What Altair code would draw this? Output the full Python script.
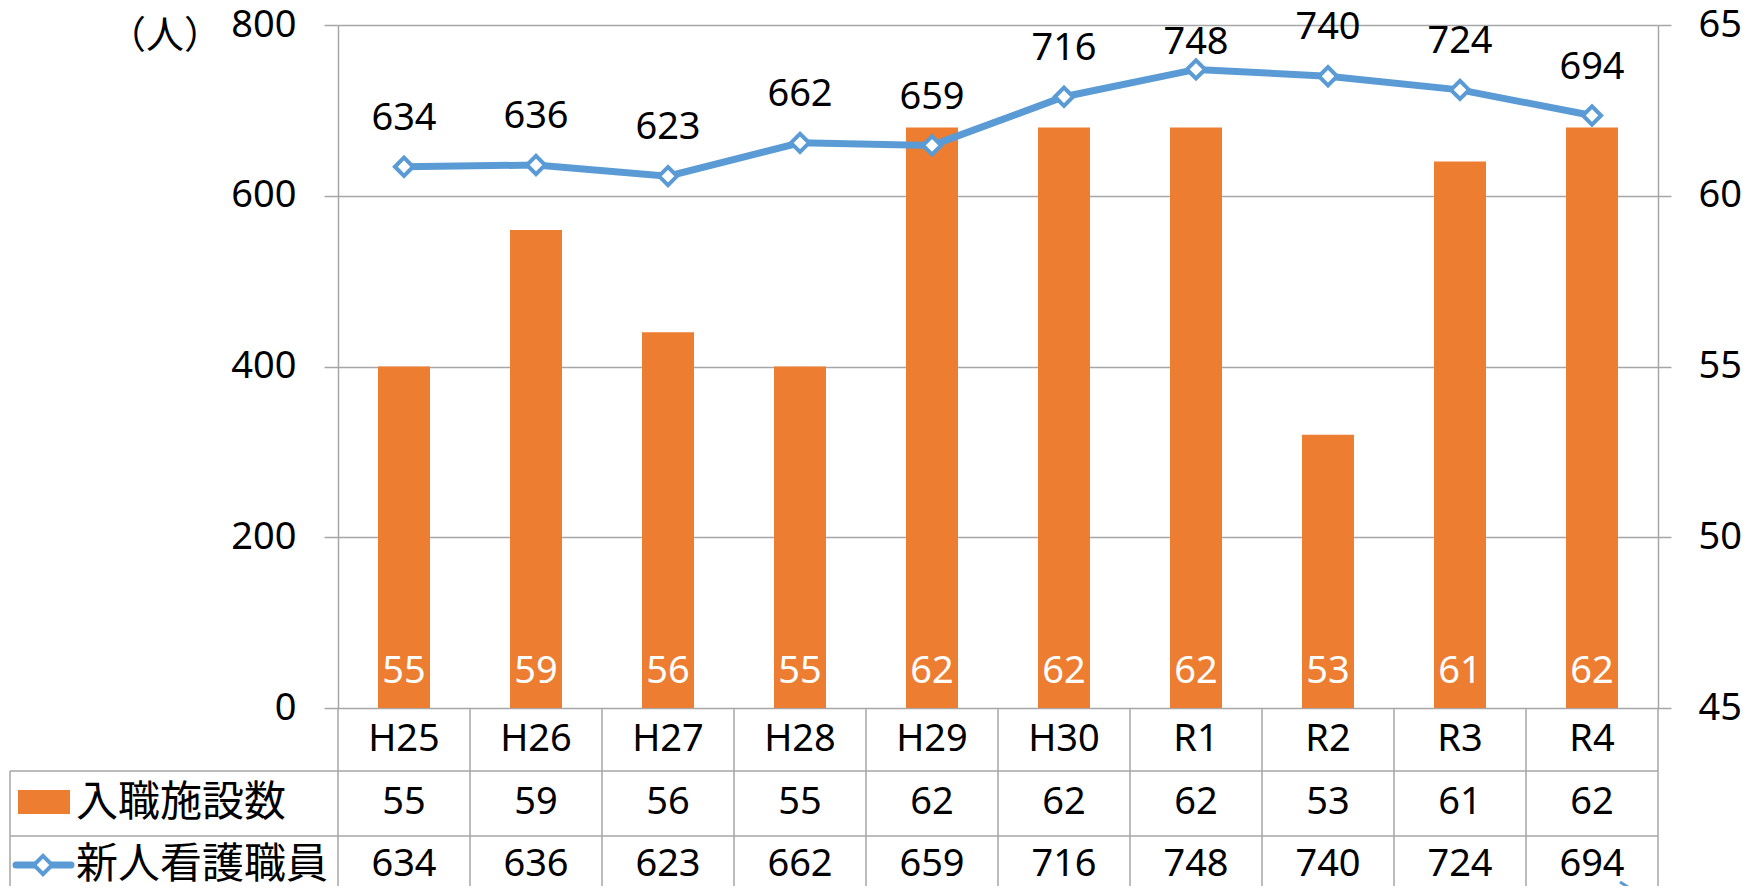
import altair as alt
import pandas as pd

# ---- data ----
categories = ["H25", "H26", "H27", "H28", "H29", "H30", "R1", "R2", "R3", "R4"]
facilities = [55, 59, 56, 55, 62, 62, 62, 53, 61, 62]          # 入職施設数 (right axis)
nurses = [634, 636, 623, 662, 659, 716, 748, 740, 724, 694]     # 新人看護職員 (left axis)
series_names = ["入職施設数", "新人看護職員"]
unit_label = "（人）"
left_ticks = [0, 200, 400, 600, 800]
right_ticks = [45, 50, 55, 60, 65]

# ---- styles ----
ORANGE = "#ED7D31"
BLUE = "#5B9BD5"
GRID = "#A6A6A6"
FONT = "Noto Sans"
CJK = "Noto Sans CJK JP"
FS = 38
W, H = 1320, 683

df = pd.DataFrame({"cat": categories, "fac": facilities, "n": nurses})
one = pd.DataFrame({"k": [0]})

xscale = alt.Scale(domain=categories, paddingInner=0, paddingOuter=0)
xenc = alt.X("cat:N", sort=categories, scale=xscale, axis=None)
lscale = alt.Scale(domain=[0, 800], nice=False, zero=True)
rscale = alt.Scale(domain=[45, 65], nice=False, zero=False)

left_axis = alt.Axis(orient="left", values=left_ticks, grid=True,
                     gridColor=GRID, gridWidth=1.5,
                     domainColor=GRID, domainWidth=1.5, tickColor=GRID,
                     tickWidth=1.5, tickSize=14, labelPadding=28,
                     labelFont=FONT, labelFontSize=FS, labelColor="black",
                     title=None)
right_axis = alt.Axis(orient="right", values=right_ticks, grid=False,
                      domainColor=GRID, domainWidth=1.5, tickColor=GRID,
                      tickWidth=1.5, tickSize=13, labelPadding=27,
                      labelFont=FONT, labelFontSize=FS, labelColor="black",
                      title=None)

bars = alt.Chart(df).mark_bar(size=52, color=ORANGE).encode(
    x=xenc,
    y=alt.Y("fac:Q", scale=rscale, axis=right_axis),
    y2=alt.datum(45),
)

line = alt.Chart(df).mark_line(color=BLUE, strokeWidth=7).encode(
    x=xenc, y=alt.Y("n:Q", scale=lscale, axis=left_axis))
pts = alt.Chart(df).mark_point(shape="diamond", filled=True, fill="white",
                               stroke=BLUE, strokeWidth=4, size=330,
                               opacity=1).encode(
    x=xenc, y=alt.Y("n:Q", scale=lscale, axis=left_axis))
line_lbl = alt.Chart(df).transform_calculate(
    ly="datum.n + (datum.cat == 'R1' ? 31 : 56)"
).mark_text(font=FONT, fontSize=FS, color="black", baseline="middle").encode(
    x=xenc, y=alt.Y("ly:Q", scale=lscale, axis=left_axis), text="n:Q")

line_group = alt.layer(line, pts, line_lbl)

bar_lbl = alt.Chart(df).mark_text(font=FONT, fontSize=FS, color="white",
                                  baseline="middle").encode(
    x=xenc, y=alt.value(647), text="fac:Q")

# ---- data table below the plot ----
cat_txt = alt.Chart(df).mark_text(font=FONT, fontSize=FS, color="black",
                                  baseline="middle").encode(
    x=xenc, y=alt.value(715), text="cat:N")
fac_txt = alt.Chart(df).mark_text(font=FONT, fontSize=FS, color="black",
                                  baseline="middle").encode(
    x=xenc, y=alt.value(778), text="fac:Q")
n_txt = alt.Chart(df).mark_text(font=FONT, fontSize=FS, color="black",
                                baseline="middle").encode(
    x=xenc, y=alt.value(840), text="n:Q")

vlines = alt.Chart(df).mark_rule(color=GRID, strokeWidth=1.5).encode(
    x=alt.X("cat:N", sort=categories, scale=xscale, axis=None, bandPosition=0),
    y=alt.value(H), y2=alt.value(H + 220))
vright = alt.Chart(one).mark_rule(color=GRID, strokeWidth=1.5).encode(
    x=alt.value(W), y=alt.value(H), y2=alt.value(H + 220))
vleft = alt.Chart(one).mark_rule(color=GRID, strokeWidth=1.5).encode(
    x=alt.value(-328), y=alt.value(746), y2=alt.value(H + 220))
h1 = alt.Chart(one).mark_rule(color=GRID, strokeWidth=1.5).encode(
    x=alt.value(-328), x2=alt.value(W), y=alt.value(746))
h2 = alt.Chart(one).mark_rule(color=GRID, strokeWidth=1.5).encode(
    x=alt.value(-328), x2=alt.value(W), y=alt.value(811))

leg_df = pd.DataFrame({"name": series_names})
leg_rect = alt.Chart(one).mark_rect(color=ORANGE).encode(
    x=alt.value(-320), x2=alt.value(-268), y=alt.value(765), y2=alt.value(789))
leg_line = alt.Chart(one).mark_rule(color=BLUE, strokeWidth=7, strokeCap="round").encode(
    x=alt.value(-322), x2=alt.value(-267), y=alt.value(840))
leg_pt = alt.Chart(one).mark_point(shape="diamond", filled=True, fill="white",
                                   stroke=BLUE, strokeWidth=4, size=330,
                                   opacity=1).encode(
    x=alt.value(-295), y=alt.value(840))
leg_t1 = alt.Chart(leg_df).transform_filter(
    alt.datum.name == series_names[0]).mark_text(
    font=CJK, fontSize=42, color="black", align="left", baseline="middle").encode(
    x=alt.value(-262), y=alt.value(778), text="name:N")
leg_t2 = alt.Chart(leg_df).transform_filter(
    alt.datum.name == series_names[1]).mark_text(
    font=CJK, fontSize=42, color="black", align="left", baseline="middle").encode(
    x=alt.value(-262), y=alt.value(840), text="name:N")

unit = alt.Chart(pd.DataFrame({"u": [unit_label]})).mark_text(
    font=CJK, fontSize=38, color="black", align="center", baseline="middle").encode(
    x=alt.value(-173), y=alt.value(12), text="u:N")

stray = alt.Chart(one).mark_rule(color=BLUE, strokeWidth=3).encode(
    x=alt.value(1282), x2=alt.value(1304), y=alt.value(857), y2=alt.value(871))

chart = alt.layer(
    vlines, vright, vleft, h1, h2,
    bars, line_group, bar_lbl, cat_txt, fac_txt, n_txt,
    leg_rect, leg_line, leg_pt, leg_t1, leg_t2, unit, stray,
).resolve_scale(y="independent").properties(
    width=W, height=H,
    autosize=alt.AutoSizeParams(type="none"),
    padding={"left": 330, "top": 17, "right": 83, "bottom": 178},
).configure_view(stroke="transparent")

chart.save("out.html", embed_options={"renderer": "svg", "actions": False})
